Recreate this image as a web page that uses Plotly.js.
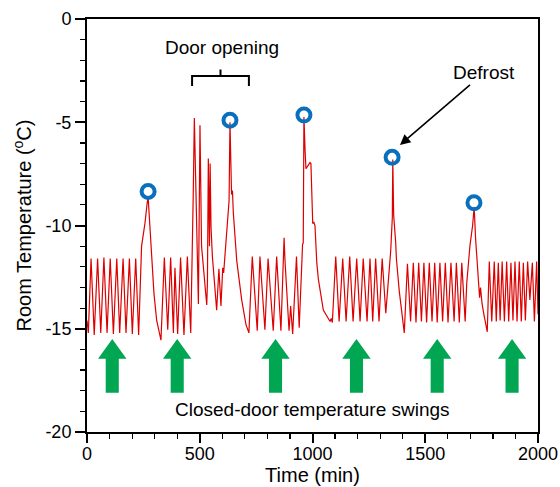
<!DOCTYPE html>
<html>
<head>
<meta charset="utf-8">
<script src="https://cdn.plot.ly/plotly-3.0.1.min.js"></script>
<style>html,body{margin:0;padding:0;background:#fff;}#chart{width:560px;height:487px;}</style>
</head>
<body>
<div id="chart"></div>
<script>
// Room temperature trace (time in min, temperature in °C)
const timeMin = [0,6,18,32,47,61,75,89,103,117,132,145,160,173,188,201,216,229,
  242,257,267,271,279,287,297,309,328,
  343,358,371,383,390,402,415,430,445,460,
  471,476,494,501,508,531,534,538,543,546,550,556,575,585,594,602,606,619,630,634,638,641,645,649,664,686,705,718,
  733,755,767,789,803,826,841,860,874,878,896,903,912,929,941,951,956,959,962,967,971,980,989,993,1001,1006,1011,1019,1026,1048,1078,1083,1088,
  1103,1118,1134,1149,1165,1180,1196,1211,1225,1242,1255,1267,1280,1295,1309,1325,1347,1354,1356,1360,1369,1372,1385,1407,
  1421,1435,1447,1459,1471,1483,1494,1506,1518,1530,1542,1553,1565,1577,1589,1601,1614,1628,1638,1651,1662,1677,1684,1698,1710,1717,1723,1735,1741,1745,1752,1760,1775,
  1784,1795,1806,1815,1824,1832,1841,1851,1861,1870,1880,1889,1898,1907,1917,1926,1935,1944,1954,1964,1975,1984,1994,2000];
const tempC = [-14.6,-15.2,-11.6,-15.3,-11.6,-15.2,-11.55,-15.2,-11.6,-15.25,-11.6,-15.2,-11.6,-15.2,-11.6,-15.25,-11.6,-15.3,
  -11.0,-9.9,-8.9,-8.6,-10.05,-11.5,-13.3,-14.6,-15.55,
  -11.55,-15.05,-11.55,-15.2,-12.05,-15.25,-11.55,-15.3,-11.5,-15.2,
  -8.6,-4.8,-13.8,-5.15,-11.0,-13.85,-12.8,-6.75,-11.0,-7.0,-10.1,-11.5,-14.1,-12.1,-13.9,-12.05,-12.3,-10.4,-8.8,-5.0,-7.6,-8.5,-8.3,-9.4,-11.7,-13.6,-14.8,-15.2,
  -11.5,-15.1,-11.5,-15.05,-11.6,-15.1,-11.5,-15.1,-10.6,-11.7,-15.1,-13.9,-15.25,-11.5,-14.95,-12.0,-10.9,-10.85,-4.75,-6.35,-7.25,-7.1,-6.95,-7.0,-9.9,-9.85,-10.0,-11.8,-12.6,-14.1,-14.65,-14.5,-14.7,
  -11.5,-14.65,-11.6,-14.65,-11.5,-14.65,-11.6,-14.65,-11.6,-14.65,-11.6,-14.65,-11.6,-14.65,-11.6,-14.25,-11.2,-9.6,-6.8,-9.5,-10.85,-11.6,-13.2,-15.2,
  -11.85,-14.65,-11.8,-14.7,-11.8,-14.65,-11.8,-14.7,-11.8,-14.65,-11.8,-14.7,-11.8,-14.65,-11.8,-14.7,-11.8,-14.65,-11.8,-14.7,-11.8,-14.65,-12.8,-11.0,-10.0,-9.1,-10.6,-12.5,-13.5,-13.0,-13.8,-14.3,-15.15,
  -11.75,-14.65,-11.75,-14.65,-11.8,-14.6,-11.75,-14.65,-11.75,-14.65,-11.8,-14.6,-11.75,-14.65,-11.75,-14.65,-11.8,-14.6,-11.75,-13.6,-11.8,-14.65,-11.75,-14.3];

// Defrost peaks (circled)
const defrostTime = [271, 634, 962, 1353, 1716];
const defrostTemp = [-8.35, -4.9, -4.65, -6.7, -8.9];

// Closed-door swing arrows (time positions, min)
const arrowTime = [112, 400, 836, 1195, 1553, 1885];

// Axis ticks
const xTicks = [0, 500, 1000, 1500, 2000];
const xTickText = ['0', '500', '1000', '1500', '2000'];
const yTicks = [-20, -15, -10, -5, 0];
const yTickText = ['-20', '-15', '-10', '-5', '0'];

const FONT = 'Liberation Sans, Arial, Helvetica, sans-serif';

const traces = [
  {x: timeMin, y: tempC, type: 'scatter', mode: 'lines',
   line: {color: 'rgb(222,0,0)', width: 1.2}, hoverinfo: 'skip'},
  {x: defrostTime, y: defrostTemp, type: 'scatter', mode: 'markers',
   marker: {symbol: 'circle-open', size: 13, color: '#0a70bd', line: {width: 4, color: '#0a70bd'}}}
];

// arrow geometry (decoration)
const headHalf = 63, shaftHalf = 29, tipY = -15.5, headBaseY = -16.45, bottomY = -18.1;
const shapes = arrowTime.map(t => ({
  type: 'path', xref: 'x', yref: 'y',
  path: `M ${t},${tipY} L ${t+headHalf},${headBaseY} L ${t+shaftHalf},${headBaseY} L ${t+shaftHalf},${bottomY} L ${t-shaftHalf},${bottomY} L ${t-shaftHalf},${headBaseY} L ${t-headHalf},${headBaseY} Z`,
  fillcolor: '#00a651', line: {width: 0}
}));
// door-opening bracket
const brL = 466, brR = 718, brC = 592;
shapes.push({type: 'path', xref: 'x', yref: 'y',
  path: `M ${brL},-3.24 L ${brL},-2.76 L ${brR},-2.76 L ${brR},-3.24 M ${brC},-2.76 L ${brC},-2.45`,
  line: {color: 'black', width: 2}});

const layout = {
  width: 560, height: 487,
  margin: {l: 87, r: 22, t: 19, b: 55},
  paper_bgcolor: '#fff', plot_bgcolor: '#fff',
  showlegend: false,
  font: {family: FONT, color: '#000'},
  xaxis: {
    range: [0, 2000], tickvals: xTicks, ticktext: xTickText, ticks: 'outside', ticklen: 9, tickwidth: 2, tickcolor: '#000',
    ticklabelstandoff: -5,
    showline: true, linewidth: 2, linecolor: '#000', mirror: true, showgrid: false, zeroline: false,
    tickfont: {size: 18, family: FONT, color: '#000'},
    minor: {dtick: 100, ticks: 'outside', ticklen: 5, tickwidth: 1.2, tickcolor: '#000', showgrid: false},
    title: {text: 'Time (min)', font: {size: 20, family: FONT, color: '#000'}, standoff: 2}
  },
  yaxis: {
    range: [-20, 0], tickvals: yTicks, ticktext: yTickText, ticks: 'outside', ticklen: 10, tickwidth: 2, tickcolor: '#000',
    showline: true, linewidth: 2, linecolor: '#000', mirror: true, showgrid: false, zeroline: false,
    tickfont: {size: 18, family: FONT, color: '#000'},
    minor: {dtick: 1, ticks: 'outside', ticklen: 5, tickwidth: 1.2, tickcolor: '#000', showgrid: false},
    title: {text: 'Room Temperature (<sup>o</sup>C)', font: {size: 20, family: FONT, color: '#000'}, standoff: 8}
  },
  shapes: shapes,
  annotations: [
    {x: 599, y: -1.36, xref: 'x', yref: 'y', text: 'Door opening', showarrow: false,
     font: {size: 19, family: FONT, color: '#000'}},
    {x: 1002, y: -18.9, xref: 'x', yref: 'y', text: 'Closed-door temperature swings', showarrow: false,
     font: {size: 19, family: FONT, color: '#000'}},
    {x: 1388, y: -6.1, xref: 'x', yref: 'y', text: 'Defrost', showarrow: true,
     ax: 84, ay: -72, arrowhead: 2, arrowsize: 1.3, arrowwidth: 1.6, arrowcolor: '#000', standoff: 0,
     font: {size: 19, family: FONT, color: '#000'}}
  ]
};

Plotly.newPlot('chart', traces, layout, {displayModeBar: false, staticPlot: true});
</script>
</body>
</html>
